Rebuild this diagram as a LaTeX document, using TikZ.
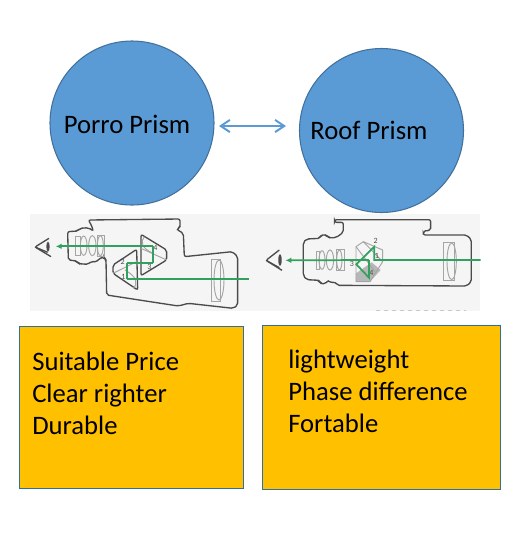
\documentclass[tikz,border=0pt]{standalone}
\usepackage{fontspec}
\setmainfont{Carlito}
\usetikzlibrary{
  arrows.meta,
  positioning
}
\definecolor{prismcolor}{RGB}{91, 155, 213}
\definecolor{prismedge}{RGB}{65, 113, 156}
\definecolor{notecolor}{RGB}{255, 192, 0}
\definecolor{noteedge}{RGB}{47, 110, 165}
\definecolor{bandcolor}{RGB}{245, 245, 245}
\definecolor{scopecolor}{RGB}{75, 75, 75}
\definecolor{lenscolor}{RGB}{165, 165, 165}
\definecolor{raycolor}{RGB}{50, 160, 95}
\tikzset{
prismcircle/.style={
  draw=prismedge,
  line width=0.8pt,
  fill=prismcolor,
  circle,
  inner sep=0pt,
  minimum size=123pt
},
prismlabel/.style={
  font=\fontsize{20}{24}\selectfont,
  text=black,
  inner sep=0pt
},
notebox/.style={
  draw=noteedge,
  line width=0.6pt,
  fill=notecolor,
  inner sep=0pt
},
notetext/.style={
  font=\fontsize{20}{24}\selectfont,
  text=black,
  align=left,
  anchor=north west,
  inner sep=0pt
},
linkarrow/.style={
  {Straight Barb[length=2.4mm,width=3.2mm]}-{Straight Barb[length=2.4mm,width=3.2mm]},
  line width=1.5pt,
  draw=prismcolor
},
housing/.style={
  draw=scopecolor,
  line width=1pt,
  rounded corners=1.5pt
},
lens/.style={
  draw=lenscolor,
  line width=0.7pt
},
ray/.style={
  draw=raycolor,
  line width=1.3pt
},
rayarrow/.style={
  ray,
  -{Latex[length=1.6mm,width=1.5mm]}
},
tinydigit/.style={
  font=\fontsize{6}{6}\selectfont,
  text=scopecolor,
  inner sep=0pt
}
}
\begin{document}
\begin{tikzpicture}[x=0.75pt, y=-0.75pt]
  \useasboundingbox (0,0) rectangle (524,537);
  \fill[white] (0,0) rectangle (524,537);

  % Circles
  \node[prismcircle] (porro) at (132,123) {};
  \node[prismcircle] (roof) at (381.5,130.5) {};
  \node[prismlabel] (porrolabel) at (127,124) {Porro Prism};
  \node[prismlabel] (rooflabel) at (369,130) {Roof Prism};
  \coordinate (linkleft) at (219,126);
  \coordinate (linkright) at (286,126);
  \draw[linkarrow] (linkleft) -- (linkright);

  % Picture band
  \fill[bandcolor] (30,214) rectangle (480,311);

  % Left binocular
  \begin{scope}[shift={(25,205)}, scale=1/3]
    \draw[housing] (190,45) -- (465,42) -- (465,68) -- (455,73) -- (475,85)
      -- (478,155) -- (622,140) -- (638,155) -- (638,300) -- (625,310)
      -- (490,295) -- (460,303) -- (245,270) -- (243,165) -- (238,157)
      -- (222,160) -- (215,172) -- (200,168) -- (190,178) -- (160,176)
      -- (155,168) -- (130,165) -- (128,80) -- (158,78) -- (165,70)
      -- (190,68) -- (205,78) -- (200,62) -- cycle;
    % lenses
    \draw[lens] (152,94) rectangle (165,150);
    \draw[lens] (176,122) ellipse (10 and 29);
    \draw[lens] (202,122) ellipse (11 and 30);
    \draw[lens] (218,90) rectangle (237,154);
    \draw[lens] (226,122) ellipse (9 and 30);
    \draw[lens] (558,162) rectangle (585,288);
    \draw[lens] (582,225) ellipse (15 and 60);
    % prisms
    \draw[housing] (348,88) -- (425,135) -- (425,165) -- (348,212) -- cycle;
    \draw[lens] (348,130) -- (425,165);
    \draw[lens] (358,95) .. controls (345,110) and (350,130) .. (385,145);
    \draw[housing] (335,133) -- (264,180) -- (264,205) -- (338,255) -- cycle;
    \draw[lens] (264,205) -- (335,170);
    \draw[lens] (325,250) .. controls (340,235) and (335,215) .. (300,195);
    \node[tinydigit] (portwo) at (293,172) {2};
    \node[tinydigit] (porone) at (295,216) {1};
    \node[tinydigit] (porthree) at (373,186) {3};
    \node[tinydigit] (porfour) at (391,128) {4};
    % eye
    \draw[housing] (72,100) -- (30,126) -- (78,155);
    \draw[housing] (30,126) -- (68,142);
    \fill[scopecolor] (69,125) ellipse (5 and 15);
    % light path
    \coordinate (raystart) at (672,223);
    \coordinate (raylow) at (307,223);
    \coordinate (raymidl) at (307,175);
    \coordinate (raymidr) at (385,175);
    \coordinate (rayhigh) at (385,124);
    \coordinate (rayend) at (92,124);
    \draw[ray] (raystart) -- (raylow);
    \draw[ray] (raylow) -- (raymidl);
    \draw[ray] (raymidl) -- (raymidr);
    \draw[ray] (raymidr) -- (rayhigh);
    \draw[rayarrow] (rayhigh) -- (rayend);
  \end{scope}

  % Right binocular
  \begin{scope}[shift={(260,205)}, scale=1/3]
    \draw[housing] (224,44) -- (512,44) -- (512,76) -- (490,78) -- (490,90)
      -- (620,90) -- (634,104) -- (634,230) -- (620,243) -- (232,241)
      -- (224,229) -- (212,235) -- (205,225) -- (196,237) -- (180,235)
      -- (178,226) -- (140,224) -- (130,212) -- (130,112) -- (140,102)
      -- (180,100) -- (182,90) -- (200,90) -- (205,98) -- (228,98)
      -- (250,82) -- (250,52) -- (224,52) -- cycle;
    % lenses
    \draw[lens] (168,138) rectangle (178,194);
    \draw[lens] (186,165) ellipse (9 and 28);
    \draw[lens] (210,165) ellipse (11 and 30);
    \draw[lens] (230,133) rectangle (252,196);
    \draw[lens] (238,165) ellipse (8 and 30);
    \draw[lens] (550,112) rectangle (582,226);
    \draw[lens] (575,169) ellipse (14 and 55);
    % prisms
    \fill[lenscolor!80] (288,205) -- (335,172) -- (362,195) -- (330,230) -- (288,230) -- cycle;
    \draw[lens] (288,125) -- (310,110) -- (368,135) -- (368,170) -- (330,230) -- (288,230) -- cycle;
    \draw[lens] (310,110) -- (368,170);
    \draw[lens] (288,125) -- (345,200);
    \node[tinydigit] (rooftwo) at (347,108) {2};
    \node[tinydigit] (roofone) at (351,152) {1};
    \node[tinydigit] (roofthree) at (276,178) {3};
    \node[tinydigit] (rooffour) at (334,205) {4};
    % eye
    \draw[housing] (58,135) -- (18,166) -- (66,196);
    \draw[housing] (18,166) -- (58,188);
    \fill[scopecolor] (60,165) ellipse (5 and 18);
    % light path
    \coordinate (roofin) at (662,165);
    \coordinate (roofa) at (343,165);
    \coordinate (roofb) at (343,125);
    \coordinate (roofc) at (289,178);
    \coordinate (roofd) at (327,218);
    \coordinate (roofe) at (327,165);
    \coordinate (roofout) at (76,166);
    \draw[ray] (roofin) -- (roofa) -- (roofb) -- (roofc) -- (roofd) -- (roofe);
    \draw[rayarrow] (roofe) -- (roofout);
  \end{scope}
  \draw[lenscolor!60, dashed, line width=0.8pt] (376,310.5) -- (466,310.5);

  % Note boxes
  \node[notebox, minimum width=168pt, minimum height=121.5pt] (porrobox) at (131,407) {};
  \node[notebox, minimum width=178.5pt, minimum height=123.5pt] (roofbox) at (381,407.5) {};
  \node[notetext] (porronotes) at (32,352) {Suitable Price\\Clear righter\\Durable};
  \node[notetext] (roofnotes) at (288,350) {lightweight\\Phase difference\\Fortable};
\end{tikzpicture}
\end{document}
